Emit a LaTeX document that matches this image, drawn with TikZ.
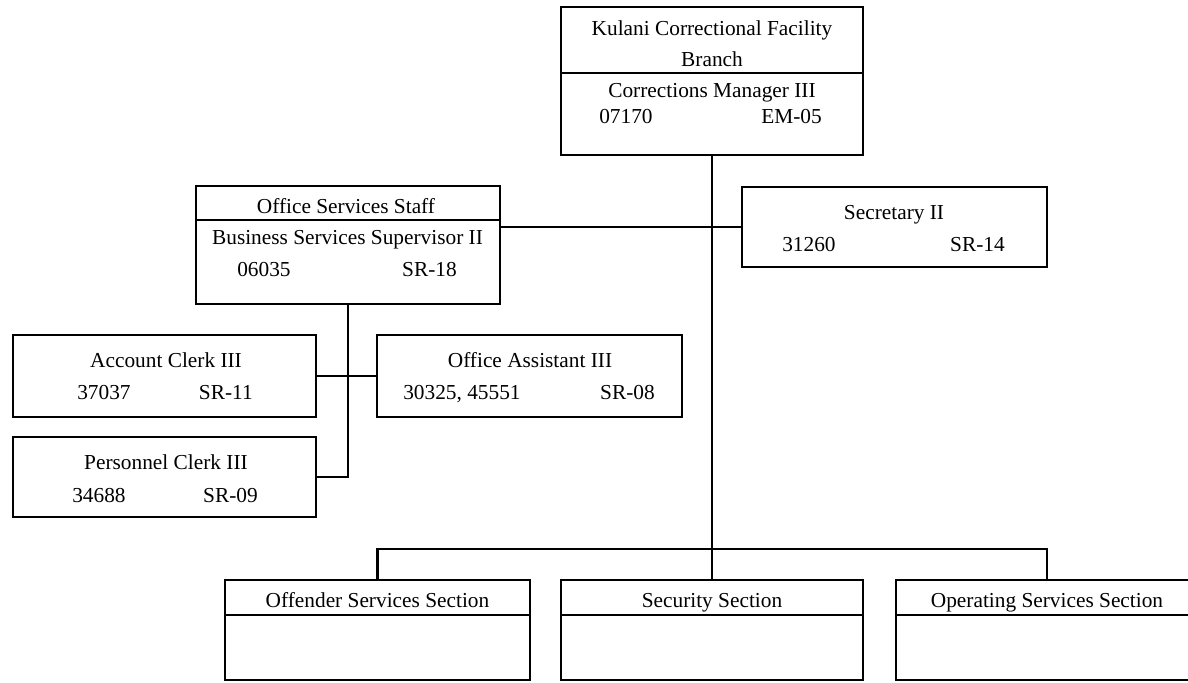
\documentclass[tikz,border=0pt]{standalone}
\usepackage{fontspec}
\setmainfont{Liberation Serif}
\usepackage{tikz}

\tikzset{
  unit/.style 2 args={draw, line width=1.7pt, inner sep=0pt, minimum width=#1*0.75pt, minimum height=#2*0.75pt},
  lbl/.style={inner sep=0pt, anchor=base, font=\fontsize{16}{19}\selectfont},
  link/.style={line width=1.7pt},
}

\begin{document}
\begin{tikzpicture}[x=0.75pt, y=-0.75pt]
    \useasboundingbox (0,0) rectangle (1188,682);
    \clip (0,0) rectangle (1188,682);

    % Branch head
    \node[unit={302}{148}] (branch) at (712,81) {};
    \draw[link] (branch.west |- 0,73) -- (branch.east |- 0,73);
    \node[lbl] (bname) at (712,35) {Kulani Correctional Facility};
    \node[lbl] (bname2) at (712,66) {Branch};
    \node[lbl] (btitle) at (712,97) {Corrections Manager III};
    \node[lbl, anchor=base west] (bpos) at (599,123) {07170};
    \node[lbl, anchor=base east] (bsr) at (822,123) {EM-05};

    % Office services staff
    \node[unit={304}{118}] (office) at (348,245) {};
    \draw[link] (office.west |- 0,220) -- (office.east |- 0,220);
    \node[lbl] (oname) at (346,213) {Office Services Staff};
    \node[lbl] (otitle) at (347.5,244) {Business Services Supervisor II};
    \node[lbl, anchor=base west] (opos) at (237,276) {06035};
    \node[lbl, anchor=base east] (osr) at (457,276) {SR-18};

    % Secretary
    \node[unit={305}{80}] (sec) at (894.5,227) {};
    \node[lbl] (stitle) at (894,219) {Secretary II};
    \node[lbl, anchor=base west] (spos) at (782,251) {31260};
    \node[lbl, anchor=base east] (ssr) at (1005,251) {SR-14};

    % Clerks
    \node[unit={303}{82}] (acct) at (164.5,376) {};
    \node[lbl] (atitle) at (166,367) {Account Clerk III};
    \node[lbl, anchor=base west] (apos) at (77,399) {37037};
    \node[lbl, anchor=base east] (asr) at (253,399) {SR-11};

    \node[unit={303}{80}] (pers) at (164.5,477) {};
    \node[lbl] (ptitle) at (166,469) {Personnel Clerk III};
    \node[lbl, anchor=base west] (ppos) at (72,502) {34688};
    \node[lbl, anchor=base east] (psr) at (258,502) {SR-09};

    \node[unit={305}{82}] (oa) at (529.5,376) {};
    \node[lbl] (oatitle) at (530,367) {Office Assistant III};
    \node[lbl, anchor=base west] (oapos) at (403,399) {30325, 45551};
    \node[lbl, anchor=base east] (oasr) at (655,399) {SR-08};

    % Sections
    \node[unit={305}{100}] (offender) at (377.5,630) {};
    \node[unit={302}{100}] (security) at (712,630) {};
    \node[unit={302}{100}] (operating) at (1047,630) {};
    \foreach \s in {offender,security,operating}
        \draw[link] (\s.west |- 0,615) -- (\s.east |- 0,615);
    \node[lbl] (offname) at (377.5,607) {Offender Services Section};
    \node[lbl] (secname) at (712,607) {Security Section};
    \node[lbl] (opname) at (1047,607) {Operating Services Section};

    % Connectors
    \coordinate (bus) at (712,549);
    \draw[link] (branch.south) -- (security.north);
    \draw[link] (offender.north) |- (bus) -| (operating.north);
    \draw[link] (sec.west) -- (sec.west -| office.east);
    \draw[link] (office.south) |- (pers.east);
    \draw[link] (acct.east) -- (oa.west);
\end{tikzpicture}
\end{document}
